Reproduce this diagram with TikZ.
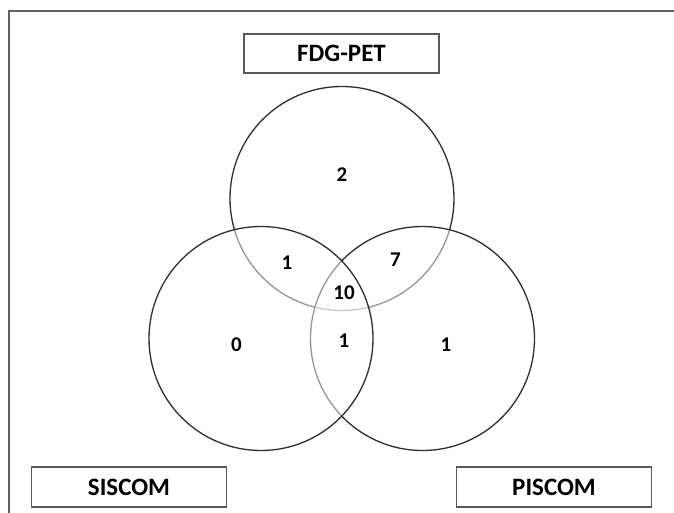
\documentclass[tikz,border=0pt]{standalone}
\usepackage{fontspec}
\setmainfont{Carlito}
\begin{document}
\begin{tikzpicture}[x=1pt,y=1pt,
  venn/.style={circle, draw=black!82, line width=1.3pt, fill=white, fill opacity=0.5, text opacity=1, minimum size=224pt, inner sep=0pt},
  labelbox/.style={draw=black!65, line width=1.1pt, minimum width=195pt, minimum height=39pt, inner sep=0pt, font=\fontsize{25}{29}\selectfont\bfseries},
  num/.style={font=\fontsize{21}{25}\selectfont\bfseries, inner sep=0pt}]
\useasboundingbox (0,0) rectangle (674,512);
\clip (0,0) rectangle (674,512);
\fill[white] (0,0) rectangle (674,512);
\draw[black!62, line width=2pt] (8.6,-10) -- (8.6,501) -- (690,501);
\node[labelbox] (fdg) at (341.5,458.5) {FDG-PET};
\node[labelbox, minimum height=40pt] (siscom) at (129,25) {SISCOM};
\node[labelbox, minimum height=40pt] (piscom) at (554,25) {PISCOM};
\node[venn] (ctop) at (342,313.5) {};
\node[venn] (cright) at (422.5,173.5) {};
\node[venn] (cleft) at (261,173.5) {};
\node[num] (n2) at (342,337) {2};
\node[num] (n1a) at (287,249) {1};
\node[num] (n7) at (395.5,252) {7};
\node[num] (n10) at (344,219) {10};
\node[num] (n0) at (236.5,167) {0};
\node[num] (n1b) at (344,171) {1};
\node[num] (n1c) at (446,167) {1};
\end{tikzpicture}
\end{document}
